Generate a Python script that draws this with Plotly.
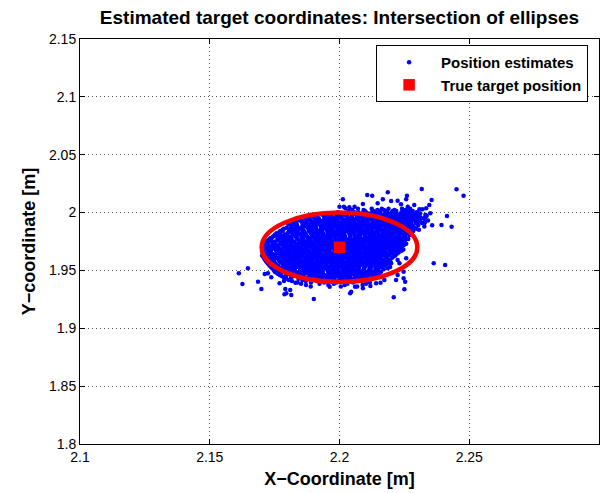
import plotly.graph_objects as go

# Isolated position estimates around the edge of the cloud
outlier_x = [2.2317, 2.2451, 2.2478, 2.2186, 2.2107, 2.2126, 2.2260, 2.2167, 2.2199, 2.2224,
             2.2237, 2.2257, 2.2355, 2.2346, 2.2288, 2.2263, 2.2147, 2.2090, 2.2058, 2.2038,
             2.2022, 2.2308, 2.2320, 2.2334, 2.2350, 2.2288, 2.2301, 2.2414, 2.2393, 2.2432,
             2.2327, 2.2295, 2.2276, 2.2269, 2.2013, 2.2000, 2.2017, 2.1942, 2.1863, 2.1878,
             2.1821, 2.1788, 2.1763, 2.1737, 2.1724,
             2.1612, 2.1647, 2.1626, 2.1686, 2.1699, 2.1737, 2.1724, 2.1712, 2.1769, 2.1786,
             2.1791, 2.1795, 2.1810, 2.1814, 2.1788, 2.1830, 2.1901, 2.1865, 2.1962,
             2.2363, 2.2407, 2.2257, 2.2224, 2.2231, 2.2247, 2.2224, 2.2218, 2.2247, 2.2253,
             2.2250, 2.2209, 2.2173, 2.2158, 2.2141, 2.2119, 2.2090, 2.2045, 2.2041, 2.2060,
             2.2186, 2.2199, 2.2173]
outlier_y = [2.0204, 2.0201, 2.0146, 2.0175, 2.0152, 2.0146, 2.0146, 2.0115, 2.0100, 2.0103,
             2.0072, 2.0115, 2.0109, 2.0065, 2.0065, 2.0051, 2.0080, 2.0074, 2.0051, 2.0046,
             2.0037, 2.0028, 2.0028, 2.0037, 1.9994, 1.9988, 1.9999, 1.9970, 1.9893, 1.9878,
             1.9907, 1.9936, 1.9849, 1.9806, 2.0115, 2.0051, 2.0051, 1.9942, 1.9899, 1.9878,
             1.9849, 1.9792, 1.9763, 1.9778, 1.9740,
             1.9475, 1.9519, 1.9383, 1.9403, 1.9340, 1.9441, 1.9475, 1.9469, 1.9389, 1.9409,
             1.9340, 1.9303, 1.9331, 1.9288, 1.9294, 1.9394, 1.9253, 1.9432, 1.9360,
             1.9562, 1.9547, 1.9605, 1.9590, 1.9562, 1.9489, 1.9461, 1.9417, 1.9432, 1.9403,
             1.9337, 1.9268, 1.9417, 1.9394, 1.9389, 1.9366, 1.9346, 1.9316, 1.9303, 1.9360,
             1.9519, 1.9562, 1.9576]

# Dense body of the cloud, listed row by row (one y level per row)
core_row_y = [2.0032, 2.0013, 1.9991, 1.9972, 1.9950, 1.9931, 1.9909, 1.9890, 1.9869, 1.9851,
              1.9830, 1.9811, 1.9790, 1.9771, 1.9750, 1.9731, 1.9710, 1.9689, 1.9670, 1.9649,
              1.9630, 1.9609, 1.9590, 1.9569, 1.9550, 1.9529, 1.9510, 1.9489, 1.9470, 1.9449,
              1.9429, 1.9408, 1.9385, 1.9362]
core_row_x = [
    [2.2071, 2.2124, 2.2163, 2.2189, 2.2241, 2.2272],
    [2.2035, 2.2098, 2.2131, 2.2150, 2.2178, 2.2205, 2.2219, 2.2248, 2.2263, 2.2282],
    [2.1968, 2.2012, 2.2057, 2.2084, 2.2112, 2.2139, 2.2158, 2.2176, 2.2197, 2.2214, 2.2236,
     2.2251, 2.2270, 2.2311],
    [2.1905, 2.1951, 2.1993, 2.2026, 2.2049, 2.2071, 2.2093, 2.2117, 2.2134, 2.2152, 2.2171,
     2.2189, 2.2206, 2.2224, 2.2240, 2.2259, 2.2278, 2.2297, 2.2336],
    [2.1868, 2.1920, 2.1962, 2.1984, 2.2008, 2.2031, 2.2050, 2.2068, 2.2088, 2.2105, 2.2123,
     2.2140, 2.2158, 2.2176, 2.2193, 2.2211, 2.2229, 2.2246, 2.2264, 2.2283, 2.2302, 2.2325],
    [2.1846, 2.1889, 2.1925, 2.1950, 2.1972, 2.1993, 2.2015, 2.2036, 2.2054, 2.2072, 2.2091,
     2.2108, 2.2126, 2.2144, 2.2162, 2.2180, 2.2197, 2.2215, 2.2233, 2.2251, 2.2268, 2.2287,
     2.2309, 2.2341],
    [2.1812, 2.1857, 2.1894, 2.1917, 2.1939, 2.1961, 2.1980, 2.1999, 2.2019, 2.2037, 2.2056,
     2.2075, 2.2093, 2.2111, 2.2129, 2.2147, 2.2165, 2.2183, 2.2201, 2.2219, 2.2237, 2.2255,
     2.2274, 2.2294, 2.2318],
    [2.1836, 2.1872, 2.1901, 2.1926, 2.1946, 2.1967, 2.1987, 2.2006, 2.2025, 2.2044, 2.2062,
     2.2081, 2.2099, 2.2117, 2.2136, 2.2154, 2.2172, 2.2190, 2.2208, 2.2226, 2.2244, 2.2262,
     2.2281, 2.2303, 2.2357],
    [2.1797, 2.1840, 2.1878, 2.1904, 2.1929, 2.1951, 2.1972, 2.1991, 2.2010, 2.2029, 2.2048,
     2.2066, 2.2085, 2.2103, 2.2122, 2.2140, 2.2158, 2.2176, 2.2194, 2.2212, 2.2230, 2.2249,
     2.2267, 2.2289],
    [2.1781, 2.1822, 2.1858, 2.1884, 2.1908, 2.1931, 2.1953, 2.1974, 2.1994, 2.2013, 2.2033,
     2.2052, 2.2071, 2.2090, 2.2108, 2.2126, 2.2145, 2.2163, 2.2181, 2.2199, 2.2217, 2.2236,
     2.2255, 2.2276, 2.2306],
    [2.1768, 2.1806, 2.1841, 2.1866, 2.1889, 2.1911, 2.1933, 2.1955, 2.1976, 2.1996, 2.2016,
     2.2036, 2.2055, 2.2074, 2.2093, 2.2112, 2.2130, 2.2149, 2.2167, 2.2186, 2.2204, 2.2222,
     2.2241, 2.2262],
    [2.1752, 2.1789, 2.1822, 2.1848, 2.1871, 2.1893, 2.1915, 2.1937, 2.1958, 2.1979, 2.1999,
     2.2019, 2.2039, 2.2058, 2.2077, 2.2096, 2.2115, 2.2134, 2.2152, 2.2171, 2.2189, 2.2208,
     2.2227, 2.2248, 2.2274],
    [2.1743, 2.1775, 2.1806, 2.1831, 2.1854, 2.1876, 2.1898, 2.1920, 2.1941, 2.1962, 2.1982,
     2.2002, 2.2022, 2.2042, 2.2061, 2.2080, 2.2099, 2.2118, 2.2137, 2.2156, 2.2175, 2.2194,
     2.2213, 2.2233, 2.2254],
    [2.1731, 2.1762, 2.1791, 2.1815, 2.1838, 2.1860, 2.1882, 2.1903, 2.1924, 2.1945, 2.1965,
     2.1985, 2.2005, 2.2025, 2.2044, 2.2064, 2.2083, 2.2102, 2.2121, 2.2140, 2.2159, 2.2178,
     2.2197, 2.2217, 2.2238, 2.2265],
    [2.1722, 2.1752, 2.1780, 2.1803, 2.1825, 2.1847, 2.1869, 2.1890, 2.1911, 2.1932, 2.1952,
     2.1972, 2.1992, 2.2012, 2.2032, 2.2051, 2.2070, 2.2089, 2.2108, 2.2127, 2.2146, 2.2165,
     2.2184, 2.2203, 2.2222, 2.2244],
    [2.1716, 2.1744, 2.1771, 2.1793, 2.1815, 2.1836, 2.1857, 2.1878, 2.1899, 2.1919, 2.1939,
     2.1959, 2.1979, 2.1999, 2.2019, 2.2038, 2.2057, 2.2076, 2.2095, 2.2114, 2.2133, 2.2152,
     2.2171, 2.2190, 2.2210, 2.2231, 2.2257],
    [2.1709, 2.1737, 2.1763, 2.1785, 2.1806, 2.1827, 2.1848, 2.1869, 2.1889, 2.1909, 2.1929,
     2.1949, 2.1969, 2.1989, 2.2009, 2.2028, 2.2047, 2.2066, 2.2085, 2.2104, 2.2123, 2.2142,
     2.2161, 2.2180, 2.2199, 2.2219, 2.2241],
    [2.1718, 2.1745, 2.1770, 2.1792, 2.1813, 2.1834, 2.1855, 2.1876, 2.1896, 2.1916, 2.1936,
     2.1956, 2.1976, 2.1996, 2.2016, 2.2035, 2.2054, 2.2073, 2.2092, 2.2111, 2.2130, 2.2149,
     2.2168, 2.2187, 2.2207, 2.2228],
    [2.1706, 2.1731, 2.1756, 2.1778, 2.1799, 2.1820, 2.1841, 2.1862, 2.1882, 2.1902, 2.1922,
     2.1942, 2.1962, 2.1982, 2.2002, 2.2021, 2.2040, 2.2059, 2.2078, 2.2097, 2.2116, 2.2135,
     2.2154, 2.2173, 2.2193, 2.2214, 2.2239],
    [2.1712, 2.1738, 2.1763, 2.1785, 2.1806, 2.1827, 2.1848, 2.1869, 2.1889, 2.1909, 2.1929,
     2.1949, 2.1969, 2.1989, 2.2009, 2.2028, 2.2047, 2.2066, 2.2085, 2.2104, 2.2123, 2.2142,
     2.2161, 2.2180, 2.2201, 2.2224],
    [2.1702, 2.1727, 2.1751, 2.1773, 2.1794, 2.1815, 2.1836, 2.1857, 2.1877, 2.1897, 2.1917,
     2.1937, 2.1957, 2.1977, 2.1997, 2.2016, 2.2035, 2.2054, 2.2073, 2.2092, 2.2111, 2.2130,
     2.2149, 2.2169, 2.2190, 2.2215],
    [2.1709, 2.1735, 2.1759, 2.1781, 2.1802, 2.1823, 2.1844, 2.1865, 2.1885, 2.1905, 2.1925,
     2.1945, 2.1965, 2.1985, 2.2004, 2.2023, 2.2042, 2.2061, 2.2080, 2.2099, 2.2118, 2.2137,
     2.2157, 2.2178, 2.2203],
    [2.1714, 2.1741, 2.1766, 2.1788, 2.1809, 2.1830, 2.1851, 2.1872, 2.1892, 2.1912, 2.1932,
     2.1952, 2.1972, 2.1992, 2.2011, 2.2030, 2.2049, 2.2068, 2.2087, 2.2106, 2.2125, 2.2145,
     2.2166, 2.2191],
    [2.1721, 2.1748, 2.1773, 2.1795, 2.1816, 2.1837, 2.1858, 2.1879, 2.1899, 2.1919, 2.1939,
     2.1959, 2.1979, 2.1999, 2.2018, 2.2037, 2.2056, 2.2075, 2.2094, 2.2113, 2.2133, 2.2154,
     2.2180],
    [2.1729, 2.1757, 2.1782, 2.1804, 2.1825, 2.1846, 2.1867, 2.1888, 2.1908, 2.1928, 2.1948,
     2.1968, 2.1988, 2.2007, 2.2026, 2.2045, 2.2064, 2.2083, 2.2102, 2.2122, 2.2143, 2.2168],
    [2.1736, 2.1765, 2.1791, 2.1814, 2.1836, 2.1858, 2.1879, 2.1900, 2.1920, 2.1940, 2.1960,
     2.1980, 2.2000, 2.2019, 2.2038, 2.2057, 2.2076, 2.2096, 2.2116, 2.2138, 2.2162, 2.2195],
    [2.1745, 2.1776, 2.1803, 2.1827, 2.1850, 2.1872, 2.1893, 2.1914, 2.1934, 2.1954, 2.1974,
     2.1994, 2.2013, 2.2032, 2.2052, 2.2072, 2.2093, 2.2115, 2.2139, 2.2170],
    [2.1751, 2.1788, 2.1818, 2.1844, 2.1868, 2.1891, 2.1913, 2.1935, 2.1956, 2.1977, 2.1997,
     2.2017, 2.2038, 2.2059, 2.2081, 2.2104, 2.2129, 2.2160],
    [2.1763, 2.1803, 2.1836, 2.1864, 2.1889, 2.1913, 2.1936, 2.1959, 2.1981, 2.2003, 2.2025,
     2.2048, 2.2072, 2.2097, 2.2124, 2.2152],
    [2.1779, 2.1821, 2.1857, 2.1888, 2.1915, 2.1941, 2.1966, 2.1991, 2.2015, 2.2040, 2.2066,
     2.2094, 2.2127],
    [2.1794, 2.1842, 2.1881, 2.1917, 2.1950, 2.1981, 2.2012, 2.2044, 2.2077, 2.2112],
    [2.1817, 2.1870, 2.1913, 2.1955, 2.1996, 2.2039, 2.2085],
    [2.1852, 2.1923, 2.1978, 2.2031, 2.2102],
    [2.1889, 2.2005, 2.2068],
]

# Second set of rows lying between the rows above
fill_row_y = [2.0023, 2.0002, 1.9981, 1.9960, 1.9941, 1.9920, 1.9899, 1.9880, 1.9860, 1.9840,
              1.9821, 1.9800, 1.9780, 1.9760, 1.9741, 1.9720, 1.9700, 1.9680, 1.9660, 1.9640,
              1.9620, 1.9600, 1.9580, 1.9560, 1.9540, 1.9520, 1.9499, 1.9479, 1.9459, 1.9439,
              1.9418, 1.9396, 1.9374]
fill_row_x = [
    [2.2049, 2.2093, 2.2146, 2.2171, 2.2212, 2.2254],
    [2.1994, 2.2031, 2.2057, 2.2072, 2.2093, 2.2102, 2.2126, 2.2143, 2.2156, 2.2184, 2.2203,
     2.2217, 2.2239, 2.2249, 2.2274, 2.2297],
    [2.1934, 2.1955, 2.1964, 2.1988, 2.2005, 2.2018, 2.2046, 2.2065, 2.2079, 2.2101, 2.2111,
     2.2136, 2.2152, 2.2172, 2.2184, 2.2211, 2.2229, 2.2252, 2.2263, 2.2289, 2.2304, 2.2331],
    [2.1884, 2.1901, 2.1914, 2.1942, 2.1961, 2.1975, 2.1997, 2.2007, 2.2032, 2.2048, 2.2068,
     2.2080, 2.2107, 2.2125, 2.2148, 2.2159, 2.2185, 2.2200, 2.2221, 2.2230, 2.2254, 2.2271,
     2.2284, 2.2312, 2.2331],
    [2.1852, 2.1871, 2.1885, 2.1907, 2.1917, 2.1942, 2.1958, 2.1978, 2.1990, 2.2017, 2.2035,
     2.2058, 2.2069, 2.2095, 2.2110, 2.2131, 2.2140, 2.2164, 2.2181, 2.2194, 2.2222, 2.2241,
     2.2255, 2.2277, 2.2287, 2.2312],
    [2.1822, 2.1832, 2.1857, 2.1873, 2.1893, 2.1905, 2.1932, 2.1950, 2.1973, 2.1984, 2.2010,
     2.2025, 2.2046, 2.2055, 2.2079, 2.2096, 2.2109, 2.2137, 2.2156, 2.2170, 2.2192, 2.2202,
     2.2227, 2.2243, 2.2263, 2.2275, 2.2302, 2.2329],
    [2.1803, 2.1823, 2.1835, 2.1862, 2.1880, 2.1903, 2.1914, 2.1940, 2.1955, 2.1976, 2.1985,
     2.2009, 2.2026, 2.2039, 2.2067, 2.2086, 2.2100, 2.2122, 2.2132, 2.2157, 2.2173, 2.2193,
     2.2205, 2.2232, 2.2250, 2.2273, 2.2301],
    [2.1815, 2.1833, 2.1856, 2.1867, 2.1893, 2.1908, 2.1929, 2.1938, 2.1962, 2.1979, 2.1992,
     2.2020, 2.2039, 2.2053, 2.2075, 2.2085, 2.2110, 2.2126, 2.2146, 2.2158, 2.2185, 2.2203,
     2.2226, 2.2237, 2.2263, 2.2281, 2.2327],
    [2.1786, 2.1812, 2.1827, 2.1848, 2.1857, 2.1881, 2.1898, 2.1911, 2.1939, 2.1958, 2.1972,
     2.1994, 2.2004, 2.2029, 2.2045, 2.2065, 2.2077, 2.2104, 2.2122, 2.2145, 2.2156, 2.2182,
     2.2197, 2.2218, 2.2227, 2.2251, 2.2270, 2.2296],
    [2.1772, 2.1781, 2.1805, 2.1822, 2.1835, 2.1863, 2.1882, 2.1896, 2.1918, 2.1928, 2.1953,
     2.1969, 2.1989, 2.2001, 2.2028, 2.2046, 2.2069, 2.2080, 2.2106, 2.2121, 2.2142, 2.2151,
     2.2175, 2.2192, 2.2205, 2.2233, 2.2252, 2.2284],
    [2.1758, 2.1771, 2.1799, 2.1818, 2.1832, 2.1854, 2.1864, 2.1889, 2.1905, 2.1925, 2.1937,
     2.1964, 2.1982, 2.2005, 2.2016, 2.2042, 2.2057, 2.2078, 2.2087, 2.2111, 2.2128, 2.2141,
     2.2169, 2.2188, 2.2202, 2.2224, 2.2234, 2.2258],
    [2.1748, 2.1762, 2.1784, 2.1794, 2.1819, 2.1835, 2.1855, 2.1867, 2.1894, 2.1912, 2.1935,
     2.1946, 2.1972, 2.1987, 2.2008, 2.2017, 2.2041, 2.2058, 2.2071, 2.2099, 2.2118, 2.2132,
     2.2154, 2.2164, 2.2189, 2.2205, 2.2225, 2.2249],
    [2.1736, 2.1761, 2.1777, 2.1797, 2.1809, 2.1836, 2.1854, 2.1877, 2.1888, 2.1914, 2.1929,
     2.1950, 2.1959, 2.1983, 2.2000, 2.2013, 2.2041, 2.2060, 2.2074, 2.2096, 2.2106, 2.2131,
     2.2147, 2.2167, 2.2179, 2.2206, 2.2224, 2.2247],
    [2.1725, 2.1737, 2.1764, 2.1782, 2.1805, 2.1816, 2.1842, 2.1857, 2.1878, 2.1887, 2.1911,
     2.1928, 2.1941, 2.1969, 2.1988, 2.2002, 2.2024, 2.2034, 2.2059, 2.2075, 2.2095, 2.2107,
     2.2134, 2.2152, 2.2175, 2.2186, 2.2212, 2.2233, 2.2252],
    [2.1718, 2.1741, 2.1752, 2.1778, 2.1793, 2.1814, 2.1823, 2.1847, 2.1864, 2.1877, 2.1905,
     2.1924, 2.1938, 2.1960, 2.1970, 2.1995, 2.2011, 2.2031, 2.2043, 2.2070, 2.2088, 2.2111,
     2.2122, 2.2148, 2.2163, 2.2184, 2.2193, 2.2217, 2.2239],
    [2.1711, 2.1726, 2.1747, 2.1756, 2.1780, 2.1797, 2.1810, 2.1838, 2.1857, 2.1871, 2.1893,
     2.1903, 2.1928, 2.1944, 2.1964, 2.1976, 2.2003, 2.2021, 2.2044, 2.2055, 2.2081, 2.2096,
     2.2117, 2.2126, 2.2150, 2.2167, 2.2180, 2.2203, 2.2229, 2.2248],
    [2.1704, 2.1728, 2.1745, 2.1758, 2.1786, 2.1805, 2.1819, 2.1841, 2.1851, 2.1876, 2.1892,
     2.1912, 2.1924, 2.1951, 2.1969, 2.1992, 2.2003, 2.2029, 2.2044, 2.2065, 2.2074, 2.2098,
     2.2115, 2.2128, 2.2156, 2.2175, 2.2189, 2.2213, 2.2236],
    [2.1710, 2.1738, 2.1757, 2.1771, 2.1793, 2.1803, 2.1828, 2.1844, 2.1864, 2.1876, 2.1903,
     2.1921, 2.1944, 2.1955, 2.1981, 2.1996, 2.2017, 2.2026, 2.2050, 2.2067, 2.2080, 2.2108,
     2.2127, 2.2141, 2.2163, 2.2173, 2.2198, 2.2221, 2.2246],
    [2.1703, 2.1725, 2.1735, 2.1760, 2.1776, 2.1796, 2.1808, 2.1835, 2.1853, 2.1876, 2.1887,
     2.1913, 2.1928, 2.1949, 2.1958, 2.1982, 2.1999, 2.2012, 2.2040, 2.2059, 2.2073, 2.2095,
     2.2105, 2.2130, 2.2146, 2.2166, 2.2178, 2.2203, 2.2229],
    [2.1706, 2.1722, 2.1742, 2.1754, 2.1781, 2.1799, 2.1822, 2.1833, 2.1859, 2.1874, 2.1895,
     2.1904, 2.1928, 2.1945, 2.1958, 2.1986, 2.2005, 2.2019, 2.2041, 2.2051, 2.2076, 2.2092,
     2.2112, 2.2124, 2.2151, 2.2169, 2.2193, 2.2217],
    [2.1705, 2.1732, 2.1750, 2.1773, 2.1784, 2.1810, 2.1825, 2.1846, 2.1855, 2.1879, 2.1896,
     2.1909, 2.1937, 2.1956, 2.1970, 2.1992, 2.2002, 2.2027, 2.2043, 2.2063, 2.2075, 2.2102,
     2.2120, 2.2143, 2.2154, 2.2179, 2.2208],
    [2.1711, 2.1722, 2.1748, 2.1763, 2.1784, 2.1793, 2.1817, 2.1834, 2.1847, 2.1875, 2.1894,
     2.1908, 2.1930, 2.1940, 2.1965, 2.1981, 2.2001, 2.2013, 2.2040, 2.2058, 2.2081, 2.2092,
     2.2118, 2.2133, 2.2159, 2.2184],
    [2.1717, 2.1738, 2.1747, 2.1771, 2.1788, 2.1801, 2.1829, 2.1848, 2.1862, 2.1884, 2.1894,
     2.1919, 2.1935, 2.1955, 2.1967, 2.1994, 2.2012, 2.2035, 2.2046, 2.2072, 2.2087, 2.2108,
     2.2117, 2.2141, 2.2166, 2.2196],
    [2.1724, 2.1741, 2.1754, 2.1782, 2.1801, 2.1815, 2.1837, 2.1847, 2.1872, 2.1888, 2.1908,
     2.1920, 2.1947, 2.1965, 2.1988, 2.1999, 2.2025, 2.2040, 2.2061, 2.2070, 2.2094, 2.2118,
     2.2139, 2.2161, 2.2187],
    [2.1731, 2.1750, 2.1764, 2.1786, 2.1796, 2.1821, 2.1837, 2.1857, 2.1869, 2.1896, 2.1914,
     2.1937, 2.1948, 2.1974, 2.1989, 2.2010, 2.2019, 2.2043, 2.2060, 2.2073, 2.2101, 2.2124,
     2.2150, 2.2178],
    [2.1740, 2.1750, 2.1775, 2.1791, 2.1811, 2.1823, 2.1850, 2.1868, 2.1891, 2.1902, 2.1928,
     2.1943, 2.1964, 2.1973, 2.1997, 2.2014, 2.2027, 2.2055, 2.2074, 2.2096, 2.2121, 2.2151],
    [2.1748, 2.1768, 2.1780, 2.1807, 2.1825, 2.1848, 2.1859, 2.1885, 2.1900, 2.1921, 2.1930,
     2.1954, 2.1971, 2.1984, 2.2012, 2.2031, 2.2045, 2.2067, 2.2092, 2.2118, 2.2149],
    [2.1757, 2.1775, 2.1798, 2.1809, 2.1835, 2.1850, 2.1871, 2.1880, 2.1904, 2.1921, 2.1934,
     2.1962, 2.1981, 2.1995, 2.2017, 2.2027, 2.2055, 2.2083, 2.2114, 2.2141],
    [2.1771, 2.1795, 2.1822, 2.1846, 2.1858, 2.1884, 2.1902, 2.1927, 2.1945, 2.1970, 2.1992,
     2.2011, 2.2037, 2.2060, 2.2086, 2.2110, 2.2139],
    [2.1786, 2.1813, 2.1848, 2.1871, 2.1903, 2.1928, 2.1957, 2.1979, 2.2004, 2.2030, 2.2058,
     2.2082, 2.2104, 2.2136],
    [2.1805, 2.1857, 2.1894, 2.1934, 2.1966, 2.1999, 2.2026, 2.2061, 2.2096],
    [2.1838, 2.1890, 2.1941, 2.1989, 2.2052, 2.2117],
    [2.1871, 2.1957, 2.2020, 2.2089],
]

# True target and the ellipse drawn around it
target_x = [2.2]
target_y = [1.97]
ellipse_center = (2.2, 1.97)
ellipse_radii = (0.03, 0.03)

x_ticks = [2.1, 2.15, 2.2, 2.25]
x_tick_text = ["2.1", "2.15", "2.2", "2.25"]
y_ticks = [1.8, 1.85, 1.9, 1.95, 2.0, 2.05, 2.1, 2.15]
y_tick_text = ["1.8", "1.85", "1.9", "1.95", "2", "2.05", "2.1", "2.15"]

est_x = []
est_y = []
for rows_y, rows_x in ((core_row_y, core_row_x), (fill_row_y, fill_row_x)):
    for ry, xs in zip(rows_y, rows_x):
        est_x.extend(xs)
        est_y.extend([ry] * len(xs))
est_x.extend(outlier_x)
est_y.extend(outlier_y)

FONT = "Liberation Sans, Arial, Helvetica, sans-serif"

fig = go.Figure()
fig.add_trace(go.Scatter(
    x=est_x, y=est_y, mode="markers", name="Position estimates",
    marker=dict(color="#0000ff", size=4.5, line=dict(width=0)),
))
fig.add_trace(go.Scatter(
    x=target_x, y=target_y, mode="markers", name="True target position",
    marker=dict(color="#ff0000", size=11.5, symbol="square", line=dict(width=0)),
))

cx, cy = ellipse_center
rx, ry_ = ellipse_radii
fig.add_shape(type="circle", xref="x", yref="y",
              x0=cx - rx, x1=cx + rx, y0=cy - ry_, y1=cy + ry_,
              line=dict(color="#ff0000", width=4.5), layer="above")

axis_common = dict(
    showline=True, linecolor="black", linewidth=1, mirror="allticks",
    ticks="inside", ticklen=5, tickcolor="black", tickwidth=1,
    showgrid=True, gridcolor="#555555", griddash="1px,3px", gridwidth=1,
    zeroline=False, tickfont=dict(family=FONT, size=14, color="black"),
)

fig.update_xaxes(range=[2.1, 2.3], tickvals=x_ticks, ticktext=x_tick_text,
                 title=dict(text="X\u2212Coordinate [m]", standoff=8,
                            font=dict(family=FONT, size=18, color="black", weight="bold")),
                 **axis_common)
fig.update_yaxes(range=[1.8, 2.15], tickvals=y_ticks, ticktext=y_tick_text,
                 title=dict(text="Y\u2212coordinate [m]", standoff=8,
                            font=dict(family=FONT, size=18, color="black", weight="bold")),
                 **axis_common)

fig.update_layout(
    width=601, height=493,
    margin=dict(l=80, r=2, t=39, b=49),
    paper_bgcolor="white", plot_bgcolor="white",
    title=dict(text="Estimated target coordinates: Intersection of ellipses",
               x=0.5, xref="paper", y=1 - 17 / 493, yref="container", yanchor="middle",
               font=dict(family=FONT, size=19, color="black", weight="bold")),
    showlegend=True,
    legend=dict(x=0.979, y=0.985, xanchor="right", yanchor="top",
                bgcolor="white", bordercolor="black", borderwidth=1,
                font=dict(family=FONT, size=15, color="black", weight="bold"),
                itemwidth=54, tracegroupgap=0),
)

fig.write_html("out.html")
